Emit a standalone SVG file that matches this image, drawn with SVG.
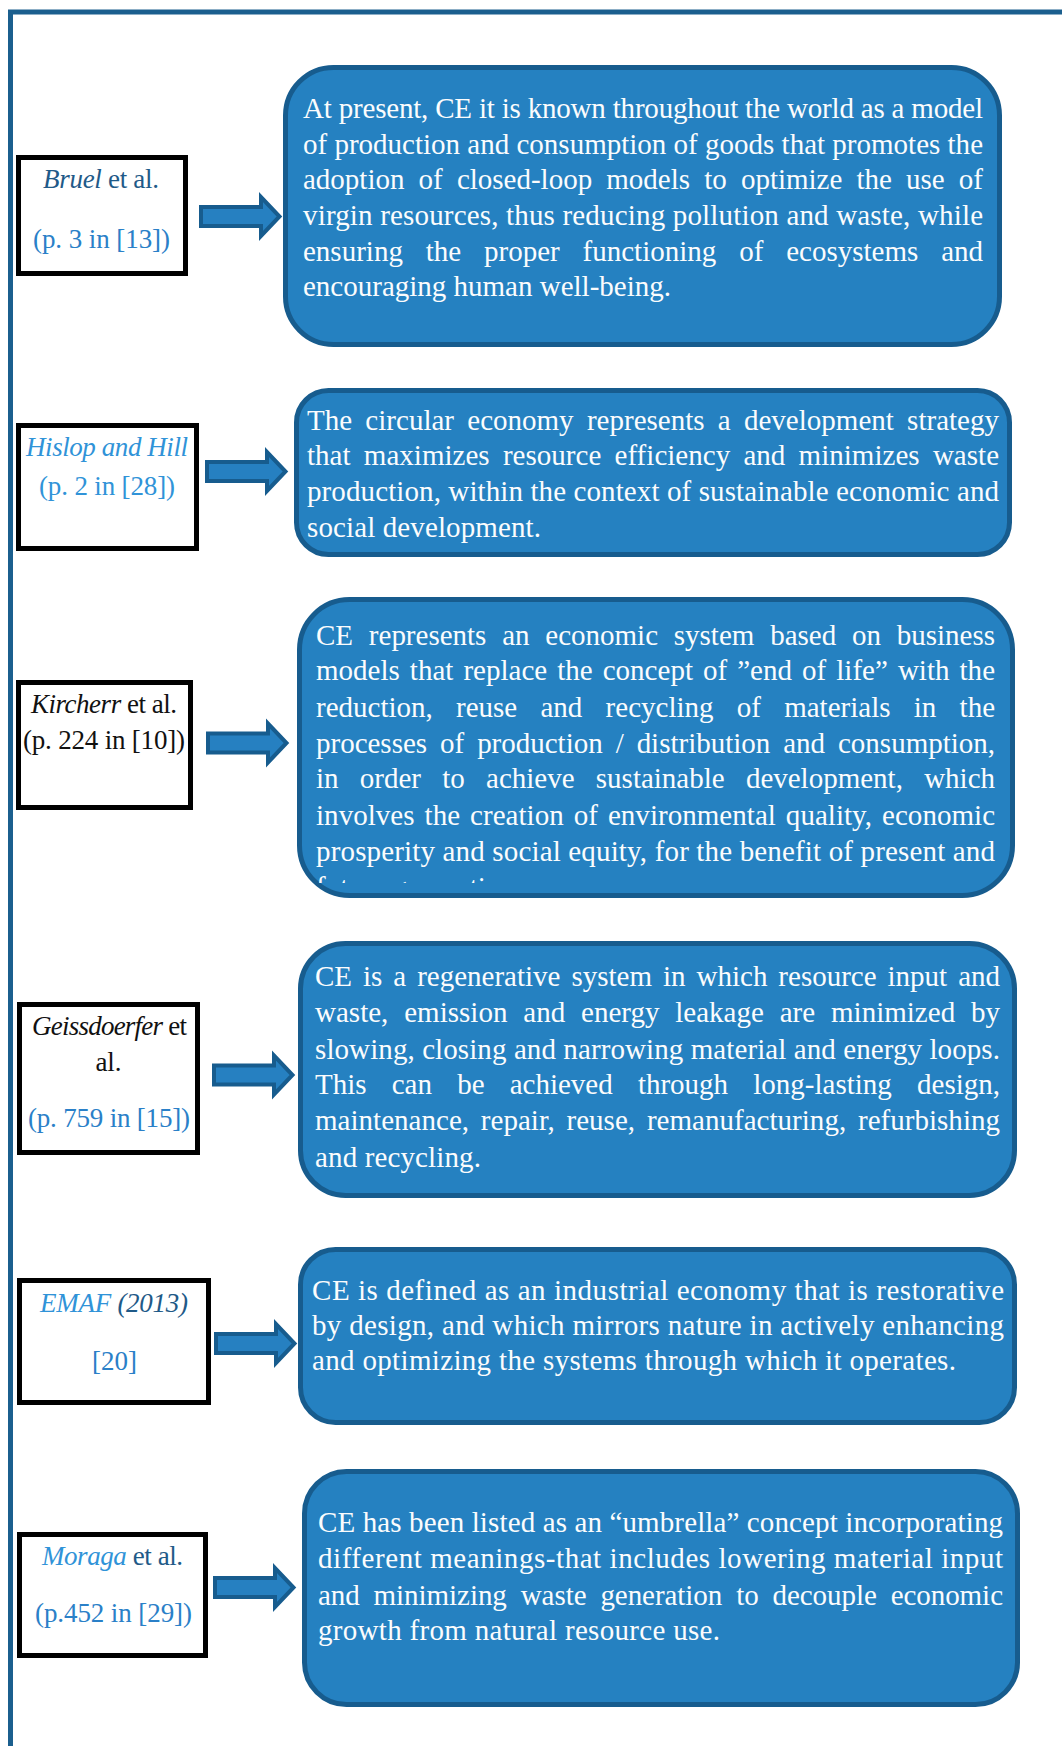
<svg xmlns="http://www.w3.org/2000/svg" width="1062" height="1746" viewBox="0 0 1062 1746">
<style>
.frame{fill:none;stroke:#1b5f8e;stroke-width:5}
.src{fill:#ffffff;stroke:#000000;stroke-width:5}
.def{fill:#2581c1;stroke:#175c8e;stroke-width:5}
.arr{fill:#2680c1;stroke:#175c8e;stroke-width:4;stroke-linejoin:miter}
.lab{font-family:"Liberation Serif","Times New Roman",serif;font-size:27px;text-anchor:middle}
.body{font-family:"Liberation Serif","Times New Roman",serif;font-size:29px;fill:#fbfcfd}
.it{font-style:italic}
.dk{fill:#1f5a88}
.lt{fill:#3093d8}
.md{fill:#2a80c8}
.bk{fill:#111111}
</style>
<defs>
<path id="arrow" d="M2,-9.5 H62 V-19.5 L80.5,0 L62,19.5 V9.5 H2 Z"/>
<clipPath id="clip3"><rect x="302" y="860" width="708" height="23"/></clipPath>
</defs>
<rect width="1062" height="1746" fill="#ffffff"/>
<path class="frame" d="M10.5,1746 V12 H1062"/>

<g id="connectors">
<use href="#arrow" class="arr" x="199" y="216.5"/>
<use href="#arrow" class="arr" x="205" y="471.5"/>
<use href="#arrow" class="arr" x="206" y="743"/>
<use href="#arrow" class="arr" x="212" y="1075"/>
<use href="#arrow" class="arr" x="214" y="1343.5"/>
<use href="#arrow" class="arr" x="213" y="1587.5"/>
</g>

<g id="src-bruel">
<rect class="src" x="18.5" y="157.5" width="167" height="116"/>
<text class="lab" x="101" y="188" textLength="116"><tspan class="it dk">Bruel</tspan><tspan class="dk"> et al.</tspan></text>
<text class="lab md" x="101.5" y="248" textLength="137">(p. 3 in [13])</text>
</g>
<g id="def-bruel">
<rect class="def" x="285.5" y="67.5" width="714" height="277" rx="48"/>
<text class="body" x="303" y="118" textLength="680">At present, CE it is known throughout the world as a model</text>
<text class="body" x="303" y="154" textLength="680">of production and consumption of goods that promotes the</text>
<text class="body" x="303" y="189" textLength="680" word-spacing="6.9">adoption of closed-loop models to optimize the use of</text>
<text class="body" x="303" y="225" textLength="680">virgin resources, thus reducing pollution and waste, while</text>
<text class="body" x="303" y="261" textLength="680" word-spacing="15.6">ensuring the proper functioning of ecosystems and</text>
<text class="body" x="303" y="296" textLength="368">encouraging human well-being.</text>
</g>

<g id="src-hislop">
<rect class="src" x="18.5" y="425.5" width="178" height="123"/>
<text class="lab it lt" x="107" y="456" textLength="162">Hislop and Hill</text>
<text class="lab lt" x="107" y="495" textLength="136">(p. 2 in [28])</text>
</g>
<g id="def-hislop">
<rect class="def" x="296.5" y="390.5" width="713" height="164" rx="32"/>
<text class="body" x="307" y="430" textLength="692" word-spacing="6">The circular economy represents a development strategy</text>
<text class="body" x="307" y="465" textLength="692" word-spacing="6">that maximizes resource efficiency and minimizes waste</text>
<text class="body" x="307" y="501" textLength="692">production, within the context of sustainable economic and</text>
<text class="body" x="307" y="537" textLength="234">social development.</text>
</g>

<g id="src-kircherr">
<rect class="src" x="18.5" y="682.5" width="172" height="125"/>
<text class="lab bk" x="104" y="713" textLength="146"><tspan class="it">Kircherr</tspan> et al.</text>
<text class="lab bk" x="104" y="749" textLength="162">(p. 224 in [10])</text>
</g>
<g id="def-kircherr">
<rect class="def" x="299.5" y="599.5" width="713" height="296" rx="50"/>
<text class="body" x="316" y="645" textLength="679" word-spacing="8.6">CE represents an economic system based on business</text>
<text class="body" x="316" y="680" textLength="679" word-spacing="2.8">models that replace the concept of ”end of life” with the</text>
<text class="body" x="316" y="717" textLength="679" word-spacing="16">reduction, reuse and recycling of materials in the</text>
<text class="body" x="316" y="753" textLength="679" word-spacing="5.7">processes of production / distribution and consumption,</text>
<text class="body" x="316" y="788" textLength="679" word-spacing="14">in order to achieve sustainable development, which</text>
<text class="body" x="316" y="825" textLength="679" word-spacing="2.7">involves the creation of environmental quality, economic</text>
<text class="body" x="316" y="861" textLength="679">prosperity and social equity, for the benefit of present and</text>
<text class="body" x="316" y="897" clip-path="url(#clip3)">future generations.</text>
</g>

<g id="src-geissdoerfer">
<rect class="src" x="19.5" y="1004.5" width="178" height="148"/>
<text class="lab bk" x="109.5" y="1035" textLength="155"><tspan class="it">Geissdoerfer</tspan> et</text>
<text class="lab bk" x="108.5" y="1071">al.</text>
<text class="lab md" x="109" y="1127" textLength="162">(p. 759 in [15])</text>
</g>
<g id="def-geissdoerfer">
<rect class="def" x="300.5" y="943.5" width="714" height="252" rx="45"/>
<text class="body" x="315" y="986" textLength="685" word-spacing="3.7">CE is a regenerative system in which resource input and</text>
<text class="body" x="315" y="1022" textLength="685" word-spacing="8.6">waste, emission and energy leakage are minimized by</text>
<text class="body" x="315" y="1059" textLength="685">slowing, closing and narrowing material and energy loops.</text>
<text class="body" x="315" y="1094" textLength="685" word-spacing="17.9">This can be achieved through long-lasting design,</text>
<text class="body" x="315" y="1130" textLength="685" word-spacing="4.5">maintenance, repair, reuse, remanufacturing, refurbishing</text>
<text class="body" x="315" y="1167" textLength="166">and recycling.</text>
</g>

<g id="src-emaf">
<rect class="src" x="19.5" y="1280.5" width="189" height="122"/>
<text class="lab it" x="114" y="1312" textLength="148"><tspan class="lt">EMAF</tspan><tspan class="dk"> (2013)</tspan></text>
<text class="lab md" x="114.5" y="1370">[20]</text>
</g>
<g id="def-emaf">
<rect class="def" x="300.5" y="1249.5" width="714" height="173" rx="35"/>
<text class="body" x="312" y="1300" textLength="692">CE is defined as an industrial economy that is restorative</text>
<text class="body" x="312" y="1335" textLength="692">by design, and which mirrors nature in actively enhancing</text>
<text class="body" x="312" y="1370" textLength="644">and optimizing the systems through which it operates.</text>
</g>

<g id="src-moraga">
<rect class="src" x="19.5" y="1534.5" width="186" height="121"/>
<text class="lab" x="112.5" y="1565" textLength="141"><tspan class="it lt">Moraga</tspan><tspan class="dk"> et al.</tspan></text>
<text class="lab md" x="113.5" y="1622" textLength="157">(p.452 in [29])</text>
</g>
<g id="def-moraga">
<rect class="def" x="304.5" y="1471.5" width="713" height="233" rx="42"/>
<text class="body" x="318" y="1532" textLength="685">CE has been listed as an “umbrella” concept incorporating</text>
<text class="body" x="318" y="1568" textLength="685">different meanings-that includes lowering material input</text>
<text class="body" x="318" y="1605" textLength="685" word-spacing="6.7">and minimizing waste generation to decouple economic</text>
<text class="body" x="318" y="1640" textLength="402">growth from natural resource use.</text>
</g>
</svg>
